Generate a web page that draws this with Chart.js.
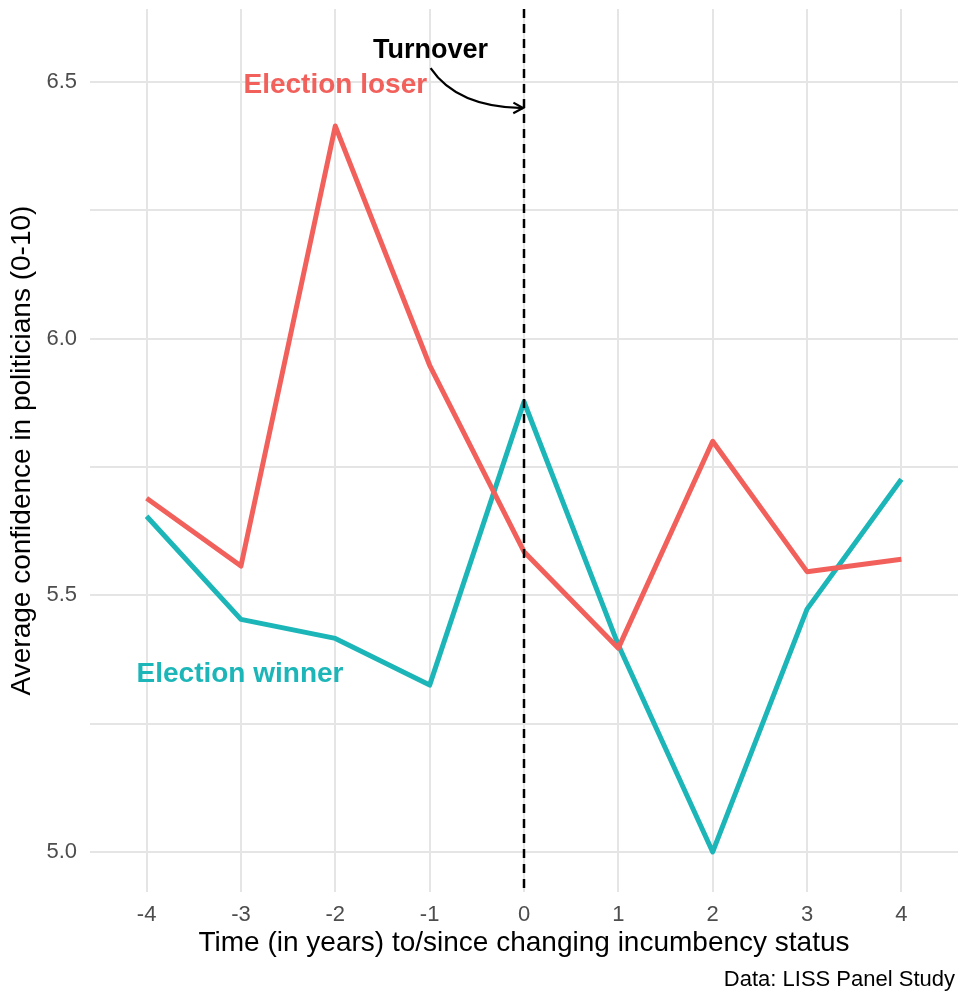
<!DOCTYPE html>
<html>
<head>
<meta charset="utf-8">
<script src="https://cdn.jsdelivr.net/npm/chart.js@4.4.1/dist/chart.umd.min.js"></script>
<style>
  html, body { margin: 0; padding: 0; background: #fff; }
  #wrap { width: 961px; height: 996px; position: relative; }
</style>
</head>
<body>
<div id="wrap"><canvas id="chart" width="961" height="996"></canvas></div>
<script>
// years to/since turnover
var years = [-4, -3, -2, -1, 0, 1, 2, 3, 4];
// average confidence (0-10)
var loserVals  = [5.689, 5.557, 6.414, 5.948, 5.585, 5.397, 5.800, 5.546, 5.570];
var winnerVals = [5.654, 5.453, 5.416, 5.325, 5.877, 5.403, 5.000, 5.473, 5.726];
// y grid lines, only the half-points get a label
var yGrid   = [5.0, 5.25, 5.5, 5.75, 6.0, 6.25, 6.5];
var yLabels = [5.0, 5.5, 6.0, 6.5];

var RED = '#F2605C';
var TEAL = '#1CB5B8';
var FONT = "'Liberation Sans', Arial, Helvetica, sans-serif";

function toPoints(vals) {
    return years.map(function (x, i) { return { x: x, y: vals[i] }; });
}

// annotations: dashed line at turnover, labels, curved arrow
var annotate = {
    id: 'annotate',
    afterDatasetsDraw: function (chart) {
        var ctx = chart.ctx;
        var xs = chart.scales.x, ys = chart.scales.y;
        var area = chart.chartArea;
        var x0 = xs.getPixelForValue(0);

        ctx.save();
        ctx.strokeStyle = '#000';
        ctx.lineWidth = 2.5;
        ctx.setLineDash([9, 6]);
        ctx.beginPath();
        ctx.moveTo(x0, area.top);
        ctx.lineTo(x0, area.bottom);
        ctx.stroke();
        ctx.setLineDash([]);

        // curved arrow from "Turnover" to the line
        var sx = xs.getPixelForValue(-0.99), sy = ys.getPixelForValue(6.527);
        var ex = x0 - 1, ey = ys.getPixelForValue(6.449);
        var cx = xs.getPixelForValue(-0.71), cy = ys.getPixelForValue(6.451);
        ctx.lineWidth = 2.2;
        ctx.beginPath();
        ctx.moveTo(sx, sy);
        ctx.quadraticCurveTo(cx, cy, ex, ey);
        ctx.stroke();
        var ang = Math.atan2(ey - cy, ex - cx);
        ctx.beginPath();
        ctx.moveTo(ex - 11 * Math.cos(ang - 0.5), ey - 11 * Math.sin(ang - 0.5));
        ctx.lineTo(ex, ey);
        ctx.lineTo(ex - 11 * Math.cos(ang + 0.5), ey - 11 * Math.sin(ang + 0.5));
        ctx.stroke();

        ctx.textAlign = 'center';
        ctx.textBaseline = 'middle';
        ctx.font = 'bold 27px ' + FONT;
        ctx.fillStyle = '#000';
        ctx.fillText('Turnover', xs.getPixelForValue(-0.99), ys.getPixelForValue(6.562));
        ctx.font = 'bold 28px ' + FONT;
        ctx.fillStyle = RED;
        ctx.fillText('Election loser', xs.getPixelForValue(-2.0), ys.getPixelForValue(6.494));
        ctx.fillStyle = TEAL;
        ctx.fillText('Election winner', xs.getPixelForValue(-3.01), ys.getPixelForValue(5.347));
        ctx.restore();
    },
    afterDraw: function (chart) {
        var ctx = chart.ctx;
        var area = chart.chartArea;
        ctx.save();
        ctx.fillStyle = '#000';
        ctx.font = '28px ' + FONT;
        ctx.textAlign = 'center';
        ctx.textBaseline = 'middle';
        ctx.fillText('Time (in years) to/since changing incumbency status', (area.left + area.right) / 2, 943);
        ctx.translate(22, (area.top + area.bottom) / 2);
        ctx.rotate(-Math.PI / 2);
        ctx.fillText('Average confidence in politicians (0-10)', 0, 0);
        ctx.restore();

        ctx.save();
        ctx.font = '22px ' + FONT;
        ctx.fillStyle = '#000';
        ctx.textAlign = 'right';
        ctx.textBaseline = 'middle';
        ctx.fillText('Data: LISS Panel Study', 955, 980);
        ctx.restore();
    }
};

var ctx = document.getElementById('chart').getContext('2d');
new Chart(ctx, {
    type: 'line',
    data: {
        datasets: [
            { label: 'Election loser', data: toPoints(loserVals), borderColor: RED, borderWidth: 5, pointRadius: 0, tension: 0, borderJoinStyle: 'round', fill: false },
            { label: 'Election winner', data: toPoints(winnerVals), borderColor: TEAL, borderWidth: 5, pointRadius: 0, tension: 0, borderJoinStyle: 'round', fill: false }
        ]
    },
    options: {
        responsive: false,
        animation: false,
        layout: { padding: { top: 9, right: 3, left: 0, bottom: 0 } },
        plugins: { legend: { display: false }, tooltip: { enabled: false } },
        scales: {
            x: {
                type: 'linear',
                min: -4.6,
                max: 4.6,
                afterBuildTicks: function (s) { s.ticks = years.map(function (v) { return { value: v }; }); },
                afterFit: function (s) { s.height = 104; s.paddingLeft = 0; s.paddingRight = 0; },
                grid: { color: '#e5e5e5', lineWidth: 2, drawTicks: false },
                border: { display: false },
                ticks: {
                    autoSkip: false, maxRotation: 0, padding: 10,
                    color: '#4d4d4d', font: { family: FONT, size: 22 },
                    callback: function (v) { return String(v); }
                }
            },
            y: {
                type: 'linear',
                min: 4.922,
                max: 6.642,
                afterBuildTicks: function (s) { s.ticks = yGrid.map(function (v) { return { value: v }; }); },
                afterFit: function (s) { s.width = 90; s.paddingTop = 0; s.paddingBottom = 0; },
                grid: { color: '#e5e5e5', lineWidth: 2, drawTicks: false },
                border: { display: false },
                ticks: {
                    autoSkip: false, padding: 13,
                    color: '#4d4d4d', font: { family: FONT, size: 22 },
                    callback: function (v) { return yLabels.indexOf(v) >= 0 ? v.toFixed(1) : ''; }
                }
            }
        }
    },
    plugins: [annotate]
});
</script>
</body>
</html>
